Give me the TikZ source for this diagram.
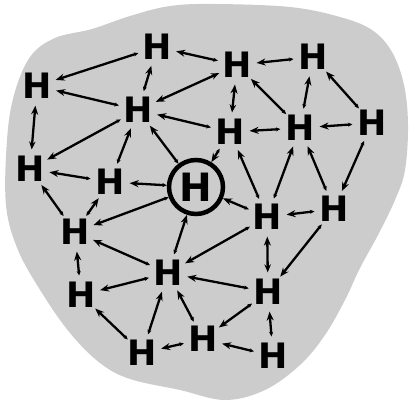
\documentclass[tikz,border=0pt]{standalone}
\usepackage{fontspec}
\setmainfont{DejaVu Sans}
\usetikzlibrary{arrows.meta}
\tikzset{
  hnode/.style={circle, inner sep=0pt, minimum size=34pt, font=\bfseries\fontsize{35}{35}\selectfont},
  centernode/.style={circle, draw, line width=4.5pt, inner sep=0pt, minimum size=54pt, font=\bfseries\fontsize{39}{39}\selectfont},
  conn/.style={line width=2.3pt, {Stealth[length=4.5pt,width=4pt]}-{Stealth[length=9pt,width=7pt]}},
  conntwo/.style={line width=2.3pt, {Stealth[length=8pt,width=6.5pt]}-{Stealth[length=9pt,width=7pt]}},
  blob/.style={fill=gray!40, draw=none}
}
\begin{document}
\begin{tikzpicture}[x=1pt,y=-1pt]
\useasboundingbox (0,0) rectangle (409,402);
\fill[blob] plot[smooth cycle, tension=0.6] coordinates {
 (30,57) (55,38) (92,29) (130,16) (170,6) (215,4) (290,7) (340,17) (372,30)
 (392,52) (404,85) (408,125) (405,170) (395,200) (378,235) (360,268) (345,300)
 (325,335) (300,365) (265,390) (225,400) (180,390) (130,379) (100,363) (70,333)
 (42,293) (18,250) (6,205) (7,140) (14,95)};
\node[hnode] (A) at (157,47) {H};
\node[hnode] (B) at (37,86) {H};
\node[hnode] (C) at (138,110) {H};
\node[hnode] (D) at (237,65) {H};
\node[hnode] (E) at (313,57) {H};
\node[hnode] (F) at (230,132) {H};
\node[hnode] (G) at (300,128) {H};
\node[hnode] (I) at (372,123) {H};
\node[hnode] (J) at (30,169) {H};
\node[hnode] (K) at (110,182) {H};
\node[centernode] (X) at (196,187) {H};
\node[hnode] (L) at (75,232) {H};
\node[hnode] (M) at (267,217) {H};
\node[hnode] (N) at (334,209) {H};
\node[hnode] (O) at (168,273) {H};
\node[hnode] (P) at (81,295) {H};
\node[hnode] (Q) at (268,292) {H};
\node[hnode] (R) at (203,339) {H};
\node[hnode] (S) at (142,353) {H};
\node[hnode] (T) at (273,356) {H};
\draw[conn] (A) -- (B);
\draw[conn] (C) -- (A);
\draw[conn] (C) -- (B);
\draw[conntwo] (J) -- (B);
\draw[conn] (C) -- (J);
\draw[conn] (K) -- (J);
\draw[conn] (K) -- (C);
\draw[conn] (X) -- (C);
\draw[conn] (X) -- (K);
\draw[conn] (D) -- (A);
\draw[conntwo] (D) -- (C);
\draw[conn] (E) -- (D);
\draw[conn] (G) -- (D);
\draw[conntwo] (F) -- (D);
\draw[conn] (G) -- (E);
\draw[conn] (I) -- (E);
\draw[conn] (I) -- (G);
\draw[conn] (G) -- (F);
\draw[conn] (F) -- (C);
\draw[conn] (F) -- (X);
\draw[conn] (M) -- (F);
\draw[conn] (M) -- (G);
\draw[conn] (N) -- (G);
\draw[conn] (I) -- (N);
\draw[conn] (N) -- (M);
\draw[conn] (M) -- (X);
\draw[conn] (M) -- (O);
\draw[conn] (N) -- (Q);
\draw[conntwo] (Q) -- (M);
\draw[conn] (Q) -- (O);
\draw[conn] (Q) -- (R);
\draw[conn] (T) -- (Q);
\draw[conn] (T) -- (R);
\draw[conn] (R) -- (O);
\draw[conn] (R) -- (S);
\draw[conn] (S) -- (O);
\draw[conn] (S) -- (P);
\draw[conn] (O) -- (P);
\draw[conn] (P) -- (L);
\draw[conn] (O) -- (L);
\draw[conn] (X) -- (L);
\draw[conn] (O) -- (X);
\draw[conn] (L) -- (K);
\draw[conn] (L) -- (J);
\end{tikzpicture}
\end{document}
